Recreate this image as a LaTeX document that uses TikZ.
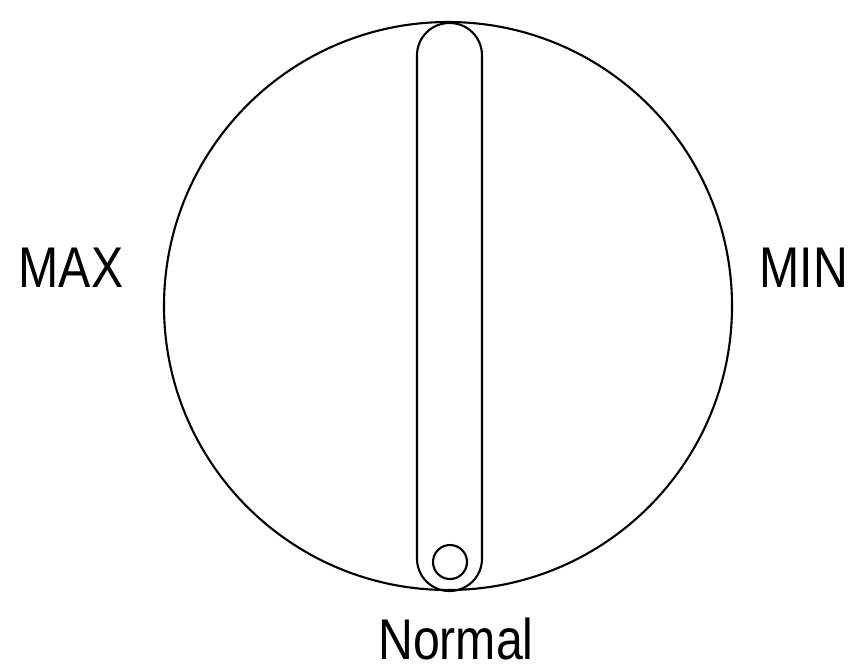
\documentclass[tikz,border=0pt]{standalone}
\usepackage{fontspec}
\newfontfamily\dialfont[FakeStretch=0.84]{Liberation Sans}

\begin{document}
\begin{tikzpicture}[x=0.03cm, y=-0.03cm, line cap=round, line join=round,
    dial label/.style={font=\dialfont\fontsize{49}{60}\selectfont, inner sep=0pt, anchor=base},
    dial line/.style={line width=1.8pt}]
    \useasboundingbox (0,0) rectangle (852,665);
    \coordinate (C) at (448,306);
    \coordinate (K) at (450,562);

    % dial face
    \draw[dial line] (C) circle[radius=284];
    % slot with knob
    \draw[dial line, rounded corners=0.97cm] (417,23) rectangle (482,591);
    \draw[dial line] (K) circle[radius=17];

    \node[dial label] (max) at (71,287) {MAX};
    \node[dial label] (min) at (804,287) {MIN};
    \node[dial label] (normal) at (456,659) {Normal};
  \end{tikzpicture}
\end{document}
